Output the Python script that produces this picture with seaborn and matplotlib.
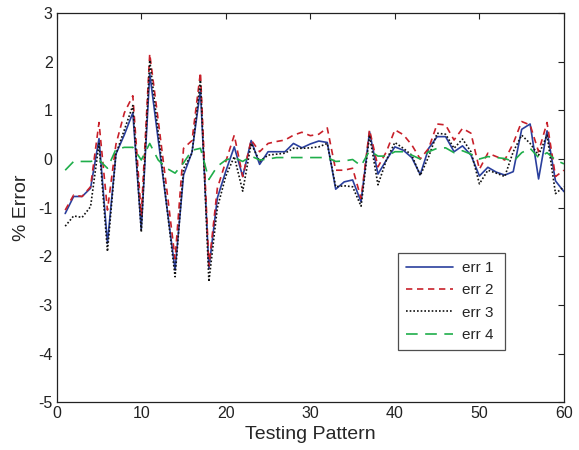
import numpy as np
import pandas as pd
import matplotlib
matplotlib.use("Agg")
import matplotlib.pyplot as plt
import seaborn as sns

# Datos
patron = list(range(1, 61))

err1 = [-1.12, -0.77, -0.77, -0.60, 0.42, -1.73, 0.10, 0.50, 0.95, -1.45,
        1.76, 0.40, -0.95, -2.28, -0.33, 0.14, 1.42, -2.25, -0.80, -0.25,
        0.25, -0.36, 0.38, -0.11, 0.15, 0.15, 0.15, 0.32, 0.23, 0.31,
        0.37, 0.34, -0.62, -0.47, -0.43, -0.88, 0.56, -0.31, -0.02, 0.25,
        0.18, 0.03, -0.32, 0.22, 0.46, 0.46, 0.15, 0.27, 0.08, -0.35,
        -0.17, -0.27, -0.33, -0.26, 0.61, 0.72, -0.41, 0.58, -0.45, -0.67]

err2 = [-1.05, -0.74, -0.77, -0.57, 0.75, -1.05, 0.30, 0.95, 1.30, -1.15,
        2.16, 0.80, -0.60, -2.05, 0.22, 0.38, 1.78, -2.20, -0.60, -0.05,
        0.49, -0.36, 0.39, 0.15, 0.32, 0.36, 0.39, 0.49, 0.55, 0.48,
        0.51, 0.64, -0.23, -0.23, -0.19, -0.81, 0.60, -0.16, 0.15, 0.60,
        0.50, 0.29, 0.00, 0.22, 0.72, 0.70, 0.39, 0.63, 0.53, -0.21,
        0.12, 0.05, -0.02, 0.32, 0.77, 0.70, 0.15, 0.75, -0.36, -0.23]

err3 = [-1.38, -1.17, -1.20, -0.98, 0.32, -1.90, 0.10, 0.60, 1.10, -1.50,
        2.03, 0.55, -0.95, -2.42, -0.20, 0.12, 1.62, -2.52, -1.00, -0.35,
        0.05, -0.66, 0.32, -0.05, 0.08, 0.10, 0.12, 0.22, 0.22, 0.23,
        0.25, 0.32, -0.57, -0.55, -0.57, -0.97, 0.49, -0.53, -0.02, 0.34,
        0.22, 0.08, -0.34, 0.05, 0.53, 0.51, 0.22, 0.41, 0.15, -0.51,
        -0.23, -0.29, -0.36, 0.15, 0.49, 0.32, 0.08, 0.49, -0.71, -0.57]

err4 = [-0.23, -0.05, -0.05, -0.05, -0.02, -0.19, 0.20, 0.24, 0.24, -0.02,
        0.32, -0.02, -0.19, -0.29, -0.08, 0.18, 0.22, -0.42, -0.15, -0.02,
        0.03, -0.05, 0.06, -0.02, 0.00, 0.03, 0.03, 0.03, 0.03, 0.03,
        0.03, 0.03, -0.05, -0.04, -0.01, -0.14, 0.17, 0.06, 0.06, 0.15,
        0.15, 0.08, 0.00, 0.15, 0.22, 0.23, 0.13, 0.17, 0.10, 0.00,
        0.05, 0.03, 0.01, -0.05, 0.13, 0.22, 0.03, 0.13, -0.02, -0.10]

nombres = ["err 1", "err 2", "err 3", "err 4"]
colores = ["#2a3f9d", "#c8202a", "#111111", "#1fae4a"]
estilos = ["-", (0, (3.8, 2.8)), (0, (1, 1.2)), (0, (7, 4.5))]

sns.set_style("white")
plt.rcParams['font.family'] = ['Liberation Sans', 'DejaVu Sans']
plt.rcParams['axes.unicode_minus'] = False

fig = plt.figure(figsize=(5.79, 4.5), dpi=100)
ax = fig.add_axes([0.098, 0.106, 0.876, 0.865])

for nombre, serie, color, estilo in zip(nombres, [err1, err2, err3, err4], colores, estilos):
    df = pd.DataFrame({"Testing Pattern": patron, "err": serie})
    sns.lineplot(data=df, x="Testing Pattern", y="err", ax=ax, color=color,
                 linestyle=estilo, linewidth=1.2, label=nombre)

ax.set_xlim(0, 60)
ax.set_ylim(-5, 3)
ax.set_xticks(range(0, 61, 10))
ax.set_yticks(range(-5, 4))
ax.set_xlabel("Testing Pattern", fontsize=14, labelpad=3)
ax.set_ylabel("% Error", fontsize=14, labelpad=6)
ax.tick_params(direction="in", length=4, width=0.8, labelsize=11.5,
               top=True, right=True, pad=3, colors="#222222")
for s in ax.spines.values():
    s.set_visible(True)
    s.set_color("#222222")
    s.set_linewidth(0.9)

leg = ax.legend(loc="lower left", bbox_to_anchor=(0.673, 0.135, 0.211, 0.244),
                mode="expand", borderaxespad=0, fontsize=11, handlelength=3.1,
                frameon=True, fancybox=False, borderpad=0.5, labelspacing=0.55,
                handletextpad=0.6)
leg.get_frame().set_edgecolor("#222222")
leg.get_frame().set_linewidth(0.9)

fig.savefig("out.png", dpi=100)
